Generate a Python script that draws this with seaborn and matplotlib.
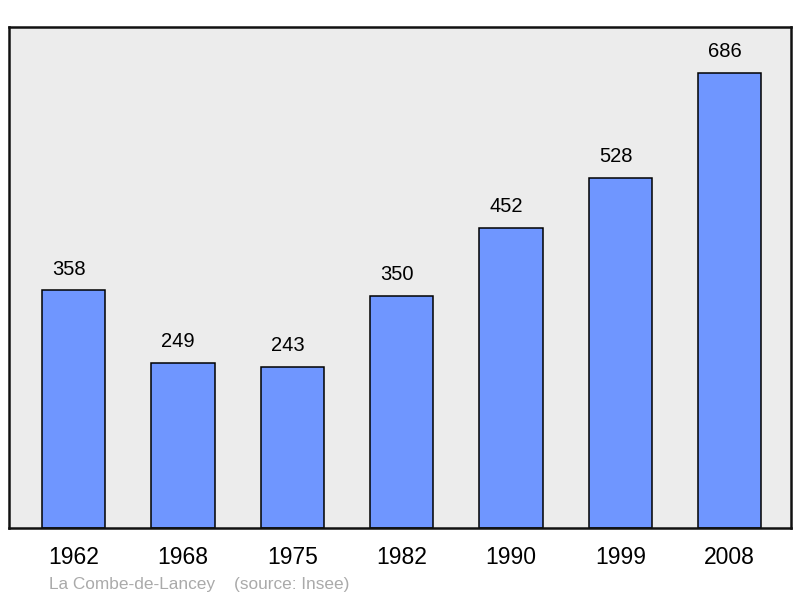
import matplotlib

matplotlib.use("Agg")
import matplotlib.pyplot as plt
import pandas as pd
import seaborn as sns

years = ["1962", "1968", "1975", "1982", "1990", "1999", "2008"]
population = [358, 249, 243, 350, 452, 528, 686]
commune = "La Combe-de-Lancey"
source = "(source: Insee)"

BAR_COLOR = "#6f96ff"
BG_COLOR = "#ececec"

sns.set_theme(style="white")
plt.rcParams["font.family"] = ["Liberation Sans", "DejaVu Sans"]

df = pd.DataFrame({"year": years, "population": population})

fig = plt.figure(figsize=(8, 5.98), dpi=100)
ax = fig.add_axes([9 / 800, 1 - 528 / 598, 782 / 800, 501 / 598])
ax.set_facecolor(BG_COLOR)

sns.barplot(
    data=df,
    x="year",
    y="population",
    color=BAR_COLOR,
    saturation=1,
    width=0.58,
    edgecolor="black",
    linewidth=1.1,
    ax=ax,
)

# value labels sit a little left of the bar centre in the original
for i, value in enumerate(population):
    ax.annotate(
        str(value),
        xy=(i, value),
        xytext=(-3.5, 8.5),
        textcoords="offset points",
        ha="center",
        va="bottom",
        fontsize=14.5,
        color="black",
    )

ax.set_xlim(-0.59, 6.56)
ax.set_ylim(0, 755)
ax.set_xlabel("")
ax.set_ylabel("")
ax.set_yticks([])
ax.tick_params(axis="x", length=0, pad=13, labelsize=16.5, colors="black")

for spine in ax.spines.values():
    spine.set_visible(True)
    spine.set_color("#111111")
    spine.set_linewidth(1.8)

fig.text(49 / 800, 1 - 584 / 598, f"{commune}    {source}", fontsize=12.4,
         color="#aaaaaa", ha="left", va="center")

fig.savefig("out.png", dpi=100, facecolor="white")
